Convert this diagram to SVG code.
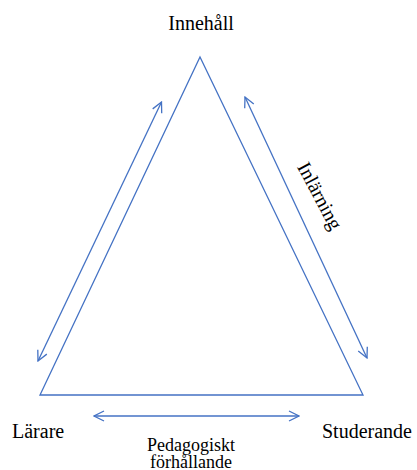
<svg xmlns="http://www.w3.org/2000/svg" width="417" height="470" viewBox="0 0 417 470">
<style>
.ln{fill:none;stroke:#4472C4;stroke-width:1.3}
.t{font-family:"Liberation Serif","Times New Roman",serif;fill:#000}
</style>
<defs>
<marker id="ah" viewBox="0 0 12 12" refX="11" refY="6" markerWidth="12" markerHeight="12" markerUnits="userSpaceOnUse" orient="auto-start-reverse">
<path d="M1,1 L11,6 L1,11" fill="none" stroke="#4472C4" stroke-width="1.3"/>
</marker>
</defs>
<g id="triangle">
<polygon class="ln" points="200,57 363,395 40,395"/>
</g>
<g id="connectors">
<line class="ln" x1="161.5" y1="102" x2="38" y2="361" marker-start="url(#ah)" marker-end="url(#ah)"/>
<line class="ln" x1="245" y1="97" x2="367" y2="358" marker-start="url(#ah)" marker-end="url(#ah)"/>
<line class="ln" x1="94" y1="416" x2="299" y2="416" marker-start="url(#ah)" marker-end="url(#ah)"/>
</g>
<g id="innehall"><text class="t" x="201" y="30" font-size="20" text-anchor="middle">Innehåll</text></g>
<g id="larare"><text class="t" x="12" y="438" font-size="20">Lärare</text></g>
<g id="studerande"><text class="t" x="322" y="438" font-size="20">Studerande</text></g>
<g id="pedagogiskt"><text class="t" x="191" y="451" font-size="18" text-anchor="middle">Pedagogiskt</text><text class="t" x="191" y="468" font-size="18" text-anchor="middle">förhållande</text></g>
<g id="inlarning"><text class="t" font-size="20" text-anchor="middle" transform="translate(314,199) rotate(62)">Inlärning</text></g>
</svg>
